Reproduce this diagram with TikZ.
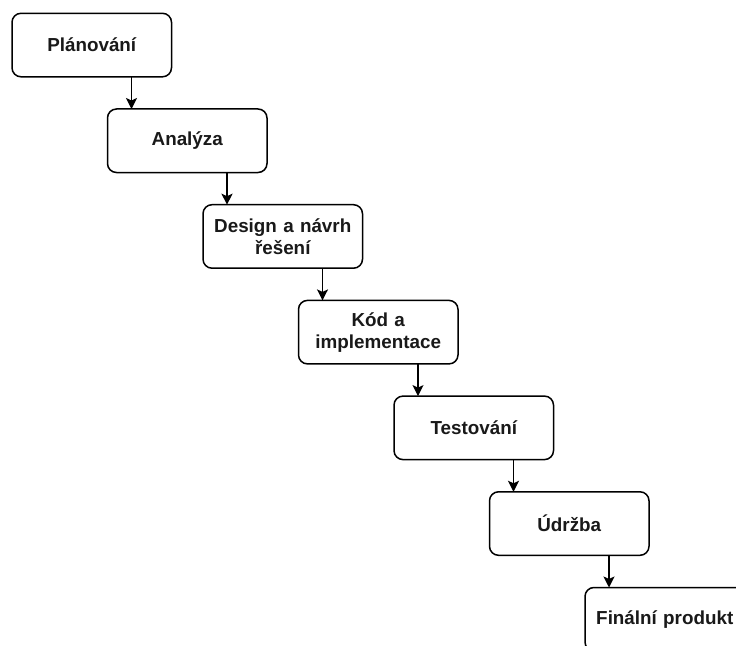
\documentclass[tikz,border=0pt]{standalone}
\usepackage{fontspec}
\setmainfont{Liberation Sans}
\usetikzlibrary{arrows.meta,calc}
\begin{document}
\begin{tikzpicture}[x=1bp,y=-1bp,
  stepbox/.style={draw=black, line width=1.5bp, fill=white, rounded corners=9bp,
    minimum width=159.5bp, minimum height=63.5bp, inner sep=0pt, outer sep=0pt,
    anchor=north west, align=center, text width=150bp,
    font=\fontsize{18.9}{22}\selectfont\bfseries, text=black!90},
  arr/.style={draw=black, line width=1.5bp, -{Stealth[length=11bp,width=11bp,inset=2.5bp]}}
]
\useasboundingbox (0,0) rectangle (736,646);
\clip (0,0) rectangle (736,646);
\fill[white] (0,0) rectangle (736,646);
\node[stepbox] (n1) at (12,13.3) {Plánování};
\node[stepbox] (n2) at (107.5,109) {Analýza};
\node[stepbox] (n3) at (203,204.7) {Design a návrh\\řešení};
\node[stepbox] (n4) at (298.5,300.4) {Kód a\\implementace};
\node[stepbox] (n5) at (394,396.1) {Testování};
\node[stepbox] (n6) at (489.5,491.8) {Údržba};
\node[stepbox] (n7) at (585,587.5) {Finální produkt};
\foreach \a/\b in {n1/n2,n2/n3,n3/n4,n4/n5,n5/n6,n6/n7}{
  \coordinate (t\b) at ($(\b.north west)+(24,0)$);
  \draw[arr] (\a.south -| t\b) -- (t\b);
}
\end{tikzpicture}
\end{document}
